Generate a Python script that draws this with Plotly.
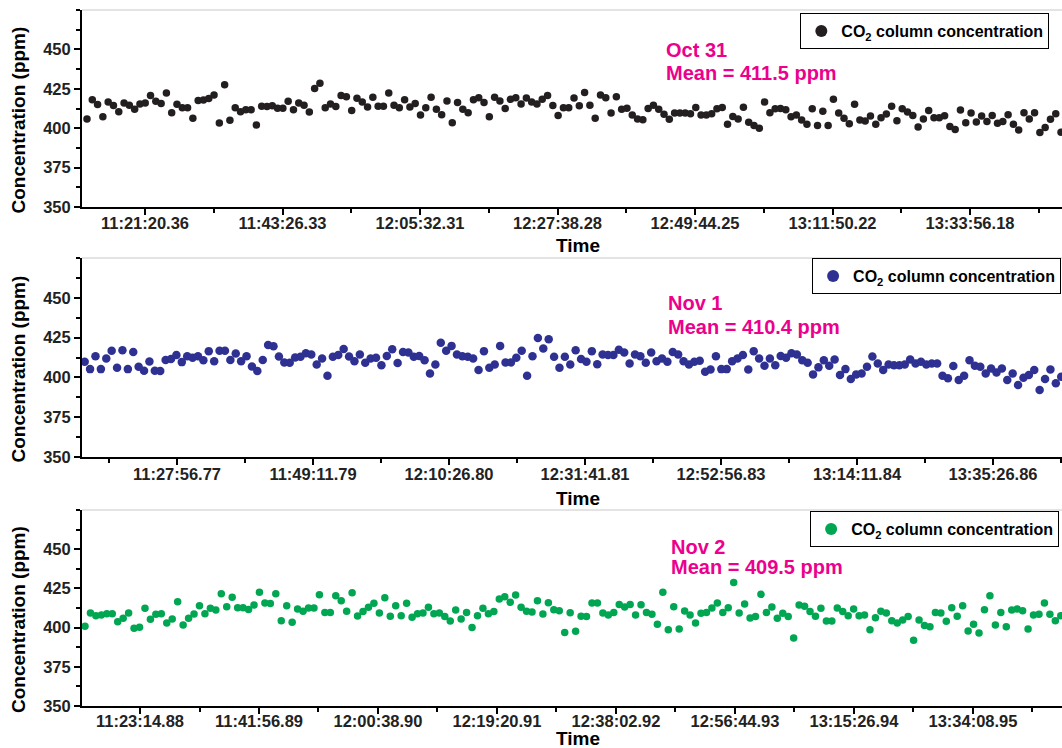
import plotly.graph_objects as go

# ---------------- data ----------------
oct31_ppm = [417.3, 405.8, 418.1, 415.0, 407.3, 416.7, 414.4, 410.4, 416.0, 414.6,
             412.0, 415.4, 416.0, 420.8, 417.1, 415.6, 422.3, 409.8, 415.2, 412.9,
             412.9, 406.3, 417.5, 417.9, 418.8, 421.0, 403.3, 427.5, 405.0, 412.9,
             410.4, 411.7, 411.7, 402.1, 414.0, 413.8, 414.2, 412.7, 412.7, 417.1,
             411.7, 416.0, 414.6, 410.2, 425.2, 428.5, 412.9, 415.4, 413.8, 420.8,
             420.0, 411.3, 419.0, 416.7, 413.5, 419.6, 414.0, 414.0, 422.3, 414.6,
             412.9, 418.1, 413.5,
             415.6, 408.3, 412.9, 419.6, 412.1, 408.5, 417.3, 403.5, 416.3, 412.1,
             409.8, 418.1, 419.4, 416.3, 407.3, 419.6, 417.3, 412.5, 418.3, 419.4,
             415.4, 419.2, 416.7, 415.4, 418.3, 420.8, 414.4, 408.1, 412.9, 412.9,
             419.2, 414.2, 422.7, 414.6, 406.3, 421.0, 419.4, 409.6, 420.0, 412.1,
             412.7, 408.3, 405.8, 405.4, 412.5, 414.6, 412.1, 408.8, 405.6, 409.6,
             409.6, 409.6, 409.2, 413.1, 408.3, 408.3, 409.2, 412.3, 413.1, 402.5,
             407.5, 405.8, 413.3, 403.8, 401.7, 400.0, 416.7, 409.8, 412.3, 412.5,
             411.7, 407.3, 408.3, 405.2, 402.5, 412.3, 401.7, 410.8, 401.7, 418.3,
             409.6, 406.3, 402.9, 415.2, 405.2, 404.6, 407.7, 402.5, 406.7, 409.0,
             414.0, 404.8, 412.3, 410.2, 408.1, 400.8, 405.8, 411.3, 406.7, 406.7,
             407.9, 401.0, 399.2, 411.5, 403.5, 409.6, 404.0, 407.7, 404.2, 408.1,
             403.1, 404.2, 408.5, 402.5, 398.8, 409.8, 405.8, 409.8, 397.3, 400.4,
             405.6, 409.2, 397.5]

nov1_ppm = [409.8, 405.2, 413.3, 405.2, 411.9, 416.7, 406.0, 417.1, 405.2, 416.0,
            406.7, 404.2, 410.0, 404.2, 404.0, 411.0, 411.5, 414.0, 409.6, 413.3,
            412.3, 413.3, 410.8, 416.5, 410.2, 416.7, 416.7, 411.0, 415.0, 410.2,
            413.3, 406.9, 404.0, 411.0, 420.4, 419.6, 413.1, 409.4, 409.2, 412.5,
            412.9, 415.2, 414.4, 408.1, 411.9, 401.0, 412.9, 414.0, 417.9, 413.1,
            410.2, 414.4, 409.2, 411.9, 412.3, 407.7, 413.5, 417.7, 409.0, 416.0,
            415.6,
            412.9, 413.5, 410.8, 402.5, 408.1, 421.7, 416.7, 419.8, 414.4, 413.3,
            412.9, 411.9, 404.6, 416.5, 406.0, 408.1, 419.8, 409.4, 409.4, 412.3,
            416.7, 401.0, 413.3, 424.8, 418.1, 424.0, 412.9, 406.0, 412.9, 408.1,
            417.1, 411.5, 409.8, 416.5, 408.3, 414.4, 414.0, 414.0, 417.3, 415.6,
            408.8, 414.4, 413.3, 409.2, 415.6, 410.2, 411.9, 409.8, 416.0, 414.4,
            410.2, 408.1, 409.8, 410.4, 403.5, 405.0, 413.3, 405.2, 405.2, 410.2,
            411.9, 414.0, 405.0, 416.5, 411.9, 407.3, 411.9, 407.7, 413.5, 412.3,
            415.2, 414.4, 410.8, 409.2, 401.9, 406.3, 410.8, 407.3, 411.3, 401.5,
            405.2, 399.0, 401.9, 402.5, 406.7, 413.1, 408.8, 404.6, 408.1, 407.7,
            407.7, 408.1, 411.3, 408.8, 409.8, 408.1, 408.8, 408.8, 401.0, 399.4,
            407.1, 398.3, 401.0, 410.8, 407.3, 406.7, 402.5, 405.6, 403.1, 405.6,
            398.3, 402.5, 395.2, 399.8, 401.5, 404.6, 392.1, 399.0, 405.0, 396.3,
            400.4]

nov2_ppm = [400.8, 409.3, 407.6, 408.0, 408.9, 408.9, 403.8, 405.9, 409.3, 399.6,
            400.2, 412.3, 405.3, 408.5, 408.9, 402.9, 405.5, 416.5, 401.7, 405.9,
            408.7, 414.0, 408.9, 412.3, 411.2, 421.6, 413.3, 419.3, 412.7, 412.7,
            411.6, 414.4, 422.5, 415.7, 415.3, 421.6, 404.4, 414.0, 403.4, 411.9,
            410.4, 412.5, 412.5, 421.0, 409.7, 409.7, 420.3, 417.2, 410.4, 422.2,
            407.4, 410.2, 412.9, 415.5, 409.3, 419.1, 407.2, 414.0, 407.6, 415.5,
            406.6, 408.9, 409.3, 412.9, 408.9, 409.3, 407.0, 404.2, 411.2, 405.5,
            409.7, 400.0, 407.6, 412.3, 408.9, 410.2, 418.2, 419.7, 416.1, 420.8,
            412.9, 410.4, 410.0, 417.2, 408.7, 415.9, 411.4, 410.8, 396.8, 409.5,
            397.7, 407.2, 407.0, 415.7, 415.7, 409.3, 408.0, 409.7, 414.8, 413.1,
            414.8, 408.0, 414.6, 409.7, 408.5, 402.1, 422.5, 398.7, 413.3, 399.1,
            410.6, 408.0, 403.0, 409.1, 409.7, 412.5, 415.7, 409.7, 412.7, 428.8,
            409.3, 415.0, 406.1, 407.0, 421.2, 409.7, 413.1, 405.9, 409.1, 407.0,
            393.4, 414.4, 413.6, 410.2, 407.2, 412.3, 404.2, 404.2, 412.5, 410.2,
            407.6, 411.9, 407.6, 408.0, 398.7, 406.3, 410.4, 409.3, 404.4, 402.9,
            404.9, 407.0, 391.9, 404.9, 401.3, 400.6, 409.7, 409.3, 404.0, 412.7,
            407.2, 414.0, 397.9, 402.1, 396.6, 411.4, 420.3, 401.7, 409.7, 400.6,
            411.2, 411.9, 410.8, 399.1, 408.0, 408.5, 415.7, 408.5, 404.4, 407.6]

# first sample time and sampling interval (s) of each day
first_sample = ["11:11:09.9", "11:13:31.4", "11:14:36.3"]
sample_step_s = [51.05, 50.58, 51.40]

# visible time window of each panel
time_window = [("11:11:12.8", "13:48:43.4"),
               ("11:13:06.2", "13:46:13.6"),
               ("11:14:08.0", "13:48:08.4")]

oct31_ticks = ["11:21:20.36", "11:43:26.33", "12:05:32.31", "12:27:38.28",
               "12:49:44.25", "13:11:50.22", "13:33:56.18"]
nov1_ticks = ["11:27:56.77", "11:49:11.79", "12:10:26.80", "12:31:41.81",
              "12:52:56.83", "13:14:11.84", "13:35:26.86"]
nov2_ticks = ["11:23:14.88", "11:41:56.89", "12:00:38.90", "12:19:20.91",
              "12:38:02.92", "12:56:44.93", "13:15:26.94", "13:34:08.95"]

day_labels = ["Oct 31", "Nov 1", "Nov 2"]
day_means = [411.5, 410.4, 409.5]
y_ticks = [350, 375, 400, 425, 450]

series = [oct31_ppm, nov1_ppm, nov2_ppm]
tick_sets = [oct31_ticks, nov1_ticks, nov2_ticks]

# ---------------- styling ----------------
colors = ["#231F20", "#2E3192", "#00A651"]
marker_sizes = [7.5, 8.5, 7.5]
magenta = "#EC008C"
FONT = "Liberation Sans, Arial, sans-serif"

W, H = 1062, 748
M_L, M_R, M_T, M_B = 82, 0, 10, 42
panel_px = [(10, 207), (258, 457), (510, 706)]  # top, bottom pixel rows
plot_h = H - M_T - M_B


def to_sec(s):
    h, m, sec = s.split(":")
    return int(h) * 3600 + int(m) * 60 + float(sec)


def py(ypix):
    return (H - M_B - ypix) / plot_h


fig = go.Figure()
annotations = []
ax_names = [("x", "y"), ("x2", "y2"), ("x3", "y3")]
legend_pos = [(0.733, py(13)), (0.745, py(258)), (0.743, py(511))]
label_pos = [((664, 50), (664, 73)), ((666, 303), (666, 327)), ((669, 547), (669, 567))]
title_shift = [-38, -41, -32]
tick_standoff = [-6, -5, -7]

for i in range(3):
    xa, ya = ax_names[i]
    lg = "legend" if i == 0 else f"legend{i + 1}"
    fig.add_trace(go.Scatter(
        x0=to_sec(first_sample[i]), dx=sample_step_s[i], y=series[i],
        mode="markers", xaxis=xa, yaxis=ya, legend=lg,
        name="CO<sub>2</sub> column concentration",
        marker=dict(color=colors[i], size=marker_sizes[i], line=dict(width=0)),
        cliponaxis=False,
    ))
    top, bot = panel_px[i]
    tv = [to_sec(t) for t in tick_sets[i]]
    xkey = "xaxis" if i == 0 else f"xaxis{i + 1}"
    ykey = "yaxis" if i == 0 else f"yaxis{i + 1}"
    fig.layout[xkey] = dict(
        domain=[0, 1], anchor=ya,
        range=[to_sec(time_window[i][0]), to_sec(time_window[i][1])],
        tickmode="array", tickvals=tv, ticktext=tick_sets[i],
        ticks="outside", ticklen=6, tickwidth=2, tickcolor="black",
        ticklabelstandoff=tick_standoff[i],
        showline=True, linecolor="black", linewidth=2,
        showgrid=False, zeroline=False,
        tickfont=dict(family=FONT, size=16.5, color="#222", weight="bold"),
        minor=dict(tickmode="linear", tick0=tv[0], dtick=(tv[1] - tv[0]) / 2,
                   ticks="outside", ticklen=4, tickwidth=2, tickcolor="black"),
    )
    fig.layout[ykey] = dict(
        domain=[py(bot), py(top)], anchor=xa,
        range=[350, 475],
        tickmode="array", tickvals=y_ticks,
        ticks="outside", ticklen=6, tickwidth=2, tickcolor="black",
        showline=True, linecolor="black", linewidth=2,
        showgrid=False, zeroline=False,
        tickfont=dict(family=FONT, size=16.5, color="#222", weight="bold"),
        minor=dict(tickmode="linear", tick0=350, dtick=12.5,
                   ticks="outside", ticklen=4, tickwidth=2, tickcolor="black"),
    )
    fig.layout[lg] = dict(
        x=legend_pos[i][0], y=legend_pos[i][1], xanchor="left", yanchor="top",
        bgcolor="white", bordercolor="black", borderwidth=1,
        font=dict(family=FONT, size=16, color="black", weight="bold"),
        itemsizing="constant",
    )
    # light grey top frame line
    fig.add_shape(type="line", xref=f"{xa} domain", yref=f"{ya} domain",
                  x0=0, x1=1, y0=1, y1=1, line=dict(color="#c8c8c8", width=1))
    # day label and mean
    (dx_, dy_), (mx_, my_) = label_pos[i]
    annotations.append(dict(
        text=day_labels[i], xref="paper", yref="paper",
        x=(dx_ - M_L) / (W - M_L - M_R), y=py(dy_), xanchor="left", yanchor="middle",
        showarrow=False, font=dict(family=FONT, size=20, color=magenta, weight="bold")))
    annotations.append(dict(
        text=f"Mean = {day_means[i]} ppm", xref="paper", yref="paper",
        x=(mx_ - M_L) / (W - M_L - M_R), y=py(my_), xanchor="left", yanchor="middle",
        showarrow=False, font=dict(family=FONT, size=20, color=magenta, weight="bold")))
    # axis titles
    annotations.append(dict(
        text="Time", xref="paper", yref=f"{ya} domain",
        x=(578 - M_L) / (W - M_L - M_R), y=0, yshift=title_shift[i],
        xanchor="center", yanchor="middle", showarrow=False,
        font=dict(family=FONT, size=19, color="black", weight="bold")))
    annotations.append(dict(
        text="Concentration (ppm)", xref="paper", yref=f"{ya} domain",
        x=0, xshift=18 - M_L, y=0.5, yshift=-12, textangle=-90,
        xanchor="center", yanchor="middle", showarrow=False,
        font=dict(family=FONT, size=19, color="black", weight="bold")))

fig.update_layout(
    width=W, height=H,
    margin=dict(l=M_L, r=M_R, t=M_T, b=M_B),
    paper_bgcolor="white", plot_bgcolor="white",
    font=dict(family=FONT, size=16, color="black"),
    annotations=annotations,
    showlegend=True,
)

fig.write_html("out.html")
